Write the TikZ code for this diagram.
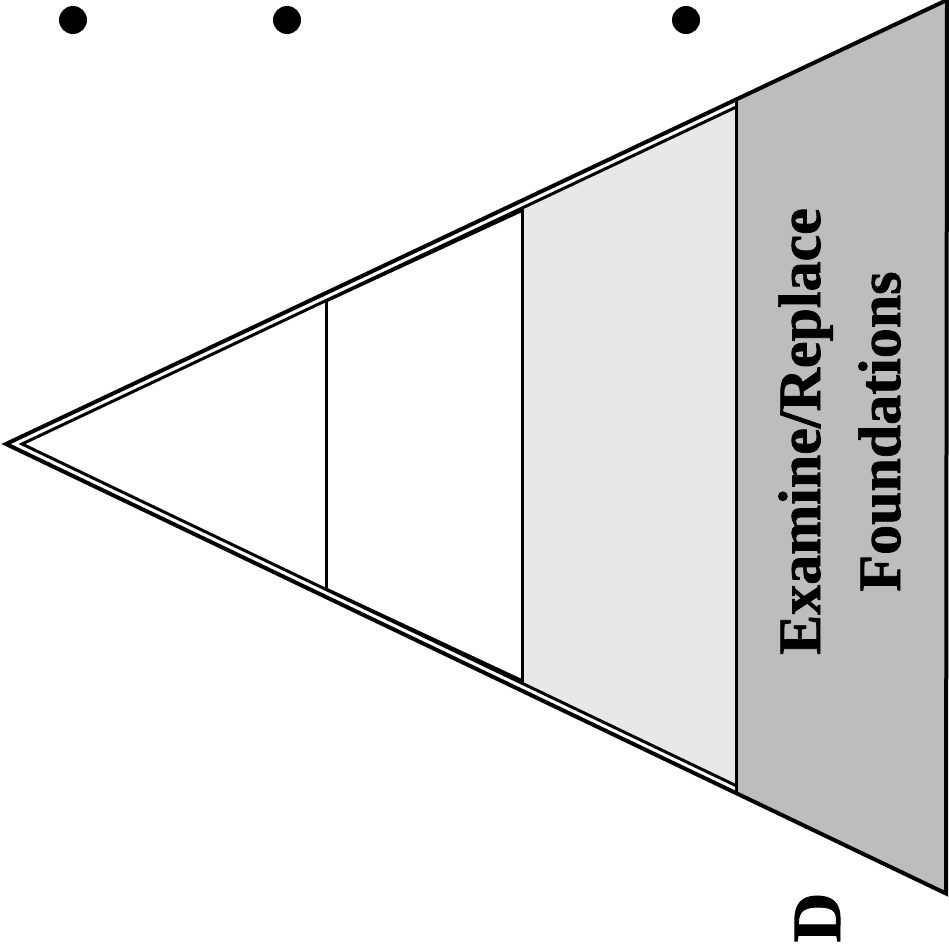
\documentclass[tikz,border=0pt]{standalone}
\usepackage{fontspec}
\setmainfont{Liberation Serif}[BoldFeatures={FakeBold=1.2}]
\definecolor{lightfill}{HTML}{E8E8E8}
\definecolor{darkfill}{HTML}{BDBDBD}
\begin{document}
\begin{tikzpicture}[x=1pt,y=-1pt,
  outerline/.style={line width=4pt,line join=miter},
  innerline/.style={line width=3pt,line join=miter},
  divider/.style={line width=3pt},
  bullet/.style={circle,fill=black,inner sep=0pt,minimum size=28pt},
  label/.style={rotate=90,anchor=base,font=\fontsize{60}{70}\selectfont\bfseries,inner sep=0pt}]
\useasboundingbox (0,0) rectangle (949,951);
\begin{scope}
\clip (0,0) rectangle (949,951);
% fills
\fill[darkfill] (736,99.6) -- (947,0) -- (946,893.5) -- (736,793.1) -- cycle;
\fill[lightfill] (522,208) -- (736,107.1) -- (736,785.6) -- (522,683.2) -- cycle;
% outer triangle
\draw[outerline] (6,444) -- (947,0) -- (946,893.5) -- cycle;
% inner line
\draw[innerline] (736,107.1) -- (22,444) -- (736,785.6);
\draw[line width=3pt] (326,301) -- (522,210.5);
\draw[line width=3pt] (326,589) -- (522,680.7);
% dividers
\draw[divider] (326,300.5) -- (326,589.5);
\draw[divider] (522,208) -- (522,683.2);
\draw[divider] (736,101) -- (736,791.5);
\end{scope}
% bullets
\node[bullet] (b1) at (73,20) {};
\node[bullet] (b2) at (287,20) {};
\node[bullet] (b3) at (686,20) {};
% labels
\node[label] (l1) at (820,431.5) {Examine/Replace};
\node[label] (l2) at (900,431.5) {Foundations};
\node[rotate=90,anchor=base,font=\fontsize{69}{80}\selectfont\bfseries,inner sep=0pt] (d) at (840,917.5) {D};
\end{tikzpicture}
\end{document}
